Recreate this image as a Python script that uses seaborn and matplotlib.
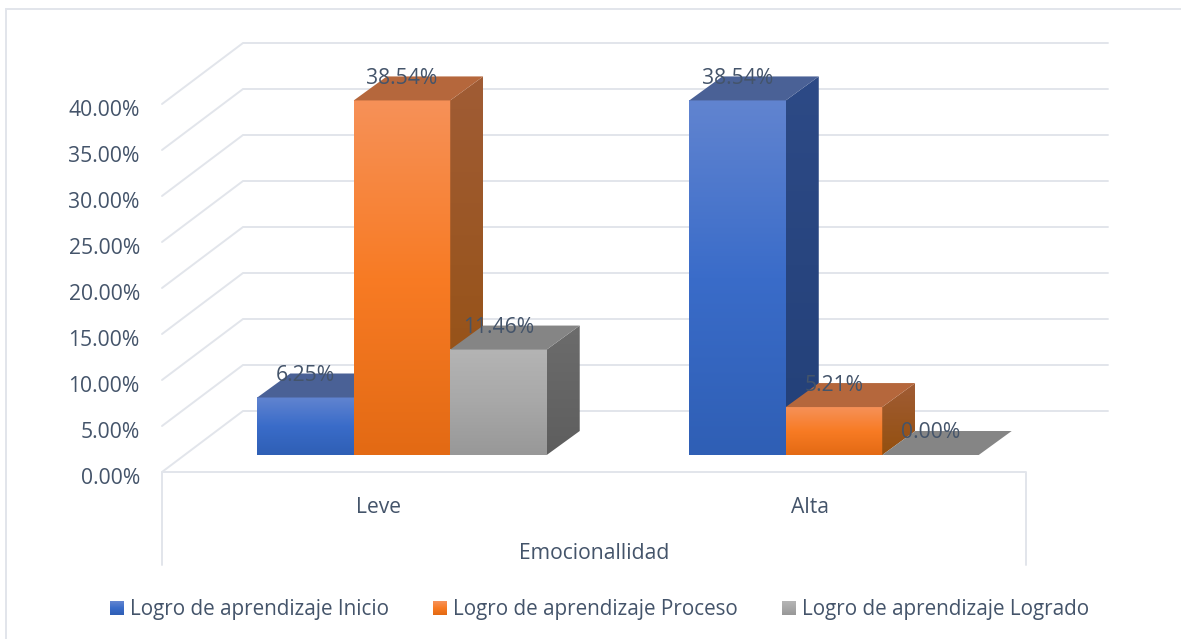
import matplotlib
matplotlib.use("Agg")
import matplotlib.pyplot as plt
import matplotlib.transforms as mtransforms
from matplotlib.colors import LinearSegmentedColormap
from matplotlib.lines import Line2D
from matplotlib.patches import Polygon, Rectangle
import numpy as np
import pandas as pd
import seaborn as sns

categorias = ["Leve", "Alta"]
inicio = [6.25, 38.54]
proceso = [38.54, 5.21]
logrado = [11.46, 0.00]
series = ["Logro de aprendizaje Inicio", "Logro de aprendizaje Proceso", "Logro de aprendizaje Logrado"]
yticks = [0, 5, 10, 15, 20, 25, 30, 35, 40]

# colores de cada cara: frente (arriba, medio, abajo), lado (arriba, abajo), tapa
frente = [["#6184d0", "#3a6cc9", "#2f5fb5"], ["#f69158", "#f87b24", "#e36a14"], ["#b4b4b4", "#a8a8a8", "#989898"]]
lado = [["#2d4a86", "#234078"], ["#a05c35", "#94500f"], ["#6c6c6c", "#5e5e5e"]]
tapa = ["#4a6196", "#b5673c", "#858585"]
texto = "#44546a"
linea = "#e2e5eb"
fuente = 15.2

sns.set_theme(style="white")
plt.rcParams["font.family"] = ["Open Sans", "DejaVu Sans"]

df = pd.DataFrame({
    "cat": categorias * 3,
    "serie": [s for s in series for _ in categorias],
    "valor": inicio + proceso + logrado,
})

fig = plt.figure(figsize=(11.81, 6.39), dpi=100)
ax = fig.add_axes([162 / 1181, (639 - 472) / 639, 946 / 1181, 460 / 639])
ax.patch.set_alpha(0)

sns.barplot(data=df, x="cat", y="valor", hue="serie", hue_order=series, order=categorias,
            palette=[c[1] for c in frente], width=0.67, gap=0, legend=False, ax=ax)

# pixeles a unidades de datos
px_x = 2 / 864
px_y = 40 / 368
xmin, xmax = -0.5, -0.5 + 946 * px_x
ymin, ymax = 0, 460 * px_y


def gradiente(colores, extent, z, clip=None, trans=None):
    cmap = LinearSegmentedColormap.from_list("g", colores)
    grad = np.linspace(0, 1, 128).reshape(-1, 1)
    im = ax.imshow(grad, cmap=cmap, extent=extent, origin="upper", aspect="auto", zorder=z,
                   transform=trans if trans is not None else ax.transData, interpolation="bilinear")
    if clip is not None:
        im.set_clip_path(clip)
    return im


# pared del fondo y piso
wall_x, wall_y = 81 * px_x, 61 * px_y
for v in yticks:
    ax.plot([xmin, xmin + wall_x, xmax], [v, v + wall_y, v + wall_y], color=linea, lw=1.4,
            clip_on=False, zorder=1, solid_joinstyle="miter")
eje_abajo = -93 * px_y
ax.plot([xmin, xmin, 1.5, 1.5], [eje_abajo, 0, 0, eje_abajo], color=linea, lw=1.4, clip_on=False, zorder=1)

# barras con efecto 3D
base_x, base_y = 24 * px_x, 17 * px_y
prof_x, prof_y = 33 * px_x, 24 * px_y
plano = mtransforms.Affine2D().translate(base_x, base_y) + ax.transData

for i, cont in enumerate(ax.containers):
    for j, bar in enumerate(cont):
        z = 3 + i * 3 + j * 10
        x0, x1 = bar.get_x(), bar.get_x() + bar.get_width()
        h = bar.get_height()
        bar.set_transform(plano)
        bar.set_clip_on(False)
        bar.set_linewidth(0)
        bar.set_zorder(z)
        if h > 0:
            gradiente(frente[i], [x0, x1, 0, h], z + 0.5, trans=plano)
            pl = Polygon([(x1, 0), (x1 + prof_x, prof_y), (x1 + prof_x, h + prof_y), (x1, h)],
                         closed=True, transform=plano, facecolor="none", edgecolor="none", zorder=z)
            ax.add_patch(pl)
            gradiente(lado[i], [x1, x1 + prof_x, 0, h + prof_y], z + 0.5, clip=pl, trans=plano)
        ax.add_patch(Polygon([(x0, h), (x1, h), (x1 + prof_x, h + prof_y), (x0 + prof_x, h + prof_y)],
                             closed=True, transform=plano, facecolor=tapa[i], edgecolor="none", zorder=z + 0.6))
        ax.text((x0 + x1) / 2, h + 24.5 * px_y, f"{h:.2f}%", transform=plano, ha="center", va="center_baseline",
                color=texto, fontsize=fuente, zorder=50, clip_on=False)

ax.set_xlim(xmin, xmax)
ax.set_ylim(ymin, ymax)
ax.set_yticks(yticks)
ax.yaxis.set_major_formatter("{x:.2f}%")
ax.tick_params(axis="y", length=0, pad=16, labelsize=fuente, labelcolor=texto)
ax.tick_params(axis="x", length=0, pad=17.7, labelsize=fuente, labelcolor=texto)
# las etiquetas del eje y van un poco mas abajo que la linea
for lab in ax.get_yticklabels():
    lab.set_transform(lab.get_transform() + mtransforms.Affine2D().translate(0, -4))
ax.set_ylabel("")
ax.set_xlabel("Emocionallidad", fontsize=fuente, color=texto)
ax.xaxis.set_label_coords(432 / 946, -71 / 460)
sns.despine(ax=ax, left=True, bottom=True)

# leyenda
handles = [Rectangle((0, 0), 1, 1, facecolor=c[1], edgecolor="none") for c in frente]
leg = ax.legend(handles, series, loc="center", bbox_to_anchor=(599.5 / 1181, 29 / 639),
                bbox_transform=fig.transFigure, ncol=3, frameon=False, fontsize=14.85, labelcolor=texto,
                handlelength=0.68, handleheight=0.68, handletextpad=0.33, columnspacing=2.1)

# marco exterior: solo arriba e izquierda se ven en la imagen
fig.add_artist(Line2D([5.5 / 1181, 5.5 / 1181, 1], [0, 630 / 639, 630 / 639], transform=fig.transFigure,
                      color=linea, lw=1.4, solid_joinstyle="miter"))

# degradado en los cuadros de la leyenda
fig.canvas.draw()
for h, col in zip(leg.legend_handles, frente):
    bb = h.get_window_extent()
    w, alto = int(round(bb.width)), int(round(bb.height))
    cmap = LinearSegmentedColormap.from_list("g", col)
    rgba = cmap(np.linspace(0, 1, alto))[:, None, :].repeat(w, axis=1)
    fig.figimage(rgba, xo=int(round(bb.x0)), yo=int(round(bb.y0)), origin="upper", zorder=20)

fig.savefig("out.png", dpi=100, facecolor="white")
